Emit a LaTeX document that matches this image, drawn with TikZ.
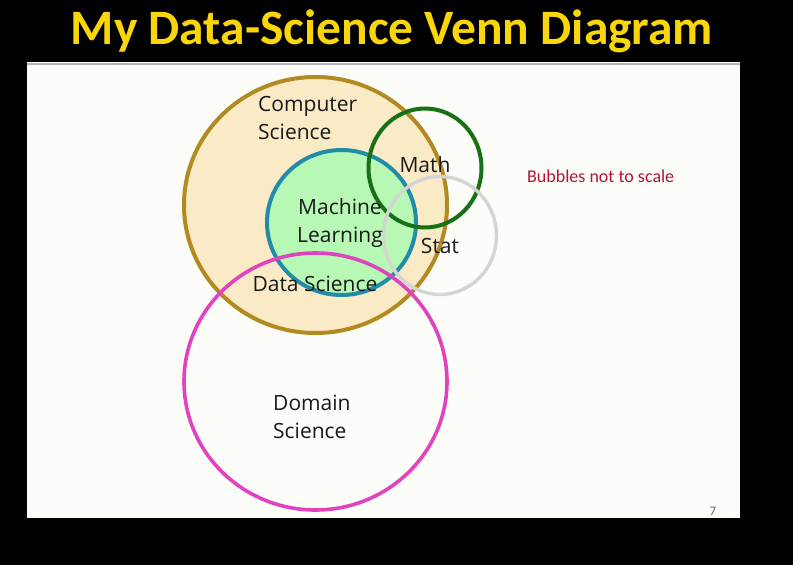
\documentclass[tikz,border=0pt]{standalone}
\usepackage{fontspec}
\setmainfont{Open Sans}
\newfontfamily\titlefont{Carlito}
\usetikzlibrary{positioning}

\definecolor{slidebg}{RGB}{252,252,248}
\definecolor{titleyellow}{RGB}{248,214,10}
\definecolor{csline}{RGB}{178,138,34}
\definecolor{csfill}{RGB}{251,234,198}
\definecolor{mlline}{RGB}{32,140,168}
\definecolor{mlfill}{RGB}{182,248,180}
\definecolor{mathline}{RGB}{22,112,22}
\definecolor{statline}{RGB}{212,212,210}
\definecolor{domline}{RGB}{224,66,192}
\definecolor{notered}{RGB}{178,22,52}

\tikzset{
    bubble/.style={line width=4pt},
    label/.style={font=\fontsize{21}{28}\selectfont, text=black!90, inner sep=0pt, align=left}
}

\begin{document}
\begin{tikzpicture}[x=1pt, y=-1pt]
    \fill[black] (0, 0) rectangle (793, 565);
    \useasboundingbox (0, 0) rectangle (793, 565);
    \fill[slidebg] (27, 62) rectangle (740, 518);
    \draw[gray!60, line width=2pt] (27, 64) -- (740, 64);
    \node [font=\titlefont\bfseries\fontsize{49.5}{49.5}\selectfont, text=titleyellow] (title) at (392, 31) {My Data-Science Venn Diagram};

    % bubbles
    \filldraw[bubble, draw=csline, fill=csfill] (315.5, 205) ellipse [x radius=131.5, y radius=128];
    \filldraw[bubble, draw=mlline, fill=mlfill] (341.5, 222.5) ellipse [x radius=74.5, y radius=72.5];
    \draw[bubble, draw=domline, line width=3.6pt] (315.5, 381.5) ellipse [x radius=131.5, y radius=128.5];
    \draw[bubble, draw=mathline] (425, 168) ellipse [x radius=56.5, y radius=59.5];
    \draw[bubble, draw=statline, line width=3.4pt] (440, 235.5) ellipse [x radius=56.5, y radius=59];

    \node [label, anchor=west] (cs) at (258, 118) {Computer\\Science};
    \node [label, align=center] (ml) at (340, 223) {Machine\\Learning};
    \node [label] (math) at (425, 165) {Math};
    \node [label] (stat) at (440, 246) {Stat};
    \node [label] (ds) at (315, 284) {Data Science};
    \node [label, anchor=west] (dom) at (273, 417) {Domain\\Science};

    \node [font=\titlefont\fontsize{18}{18}\selectfont, text=notered, anchor=west, inner sep=0pt] (note) at (527, 176) {Bubbles not to scale};
    \node [font=\titlefont\fontsize{13}{13}\selectfont, text=black!60] (page) at (713, 511) {7};
\end{tikzpicture}
\end{document}
